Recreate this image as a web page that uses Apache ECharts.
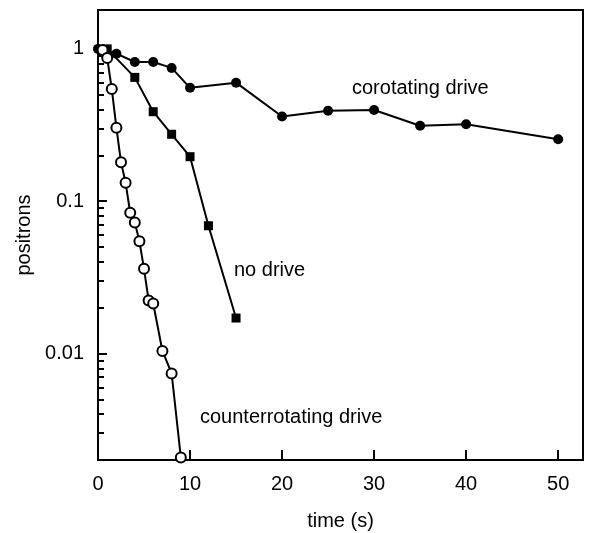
<!DOCTYPE html>
<html>
<head>
<meta charset="utf-8">
<script src="https://cdn.jsdelivr.net/npm/echarts@6/dist/echarts.min.js"></script>
<style>
html,body{margin:0;padding:0;background:#fff;}
#chart{width:589px;height:533px;}
</style>
</head>
<body>
<div id="chart"></div>
<script>
// Data
const corotatingTime = [0, 2, 4, 6, 8, 10, 15, 20, 25, 30, 35, 40, 50];
const corotatingPositrons = [1.0, 0.93, 0.82, 0.82, 0.75, 0.555, 0.60, 0.36, 0.393, 0.397, 0.313, 0.32, 0.255];

const noDriveTime = [1, 4, 6, 8, 10, 12, 15];
const noDrivePositrons = [1.0, 0.65, 0.387, 0.275, 0.196, 0.069, 0.0171];

const counterTime = [0.5, 1, 1.5, 2, 2.5, 3, 3.5, 4, 4.5, 5, 5.5, 6, 7, 8, 9];
const counterPositrons = [0.985, 0.87, 0.545, 0.304, 0.18, 0.132, 0.084, 0.0724, 0.0546, 0.036, 0.0223, 0.0213, 0.0104, 0.0074, 0.00208];

const xTicks = [0, 10, 20, 30, 40, 50];
const yMajorTicks = [0.01, 0.1, 1];
const yMinorTicks = [0.002,0.003,0.004,0.005,0.006,0.007,0.008,0.009,
                     0.02,0.03,0.04,0.05,0.06,0.07,0.08,0.09,
                     0.2,0.3,0.4,0.5,0.6,0.7,0.8,0.9];

const zip = (xs, ys) => xs.map((x, i) => [x, ys[i]]);
const FONT = 'Liberation Sans, Arial, Helvetica, sans-serif';
const FS = 20;

const chart = echarts.init(document.getElementById('chart'), null, {renderer: 'canvas'});
chart.setOption({
  animation: false,
  backgroundColor: '#fff',
  grid: {left: 98, right: 6, top: 10, bottom: 73, outerBoundsMode: 'none', containLabel: false,
         show: true, borderColor: '#000', borderWidth: 2, backgroundColor: 'transparent'},
  xAxis: {
    type: 'value', min: 0, max: 52.7, interval: 10,
    name: 'time (s)', nameLocation: 'middle', nameGap: 51,
    nameTextStyle: {fontFamily: FONT, fontSize: FS, color: '#000'},
    axisLine: {show: true, onZero: false, lineStyle: {color: '#000', width: 2}},
    axisTick: {show: true, inside: true, length: 10, lineStyle: {color: '#000', width: 2}, customValues: xTicks},
    axisLabel: {fontFamily: FONT, fontSize: FS, color: '#000', margin: 14, customValues: xTicks},
    splitLine: {show: false}
  },
  yAxis: [{
    type: 'log', logBase: 10, min: 0.002, max: 1.8,
    name: 'positrons', nameLocation: 'middle', nameGap: 62, nameRotate: 90,
    nameTextStyle: {fontFamily: FONT, fontSize: FS, color: '#000'},
    axisLine: {show: true, onZero: false, lineStyle: {color: '#000', width: 2}},
    axisTick: {show: true, inside: true, length: 9, lineStyle: {color: '#000', width: 2}, customValues: yMajorTicks},
    axisLabel: {fontFamily: FONT, fontSize: FS, color: '#000', margin: 14, customValues: yMajorTicks,
      formatter: v => String(+Number(v).toPrecision(3))},
    splitLine: {show: false}
  }, {
    type: 'log', logBase: 10, min: 0.002, max: 1.8, position: 'left',
    axisLine: {show: false},
    axisTick: {show: true, inside: true, length: 6, lineStyle: {color: '#000', width: 2}, customValues: yMinorTicks},
    axisLabel: {show: false},
    splitLine: {show: false}
  }],
  series: [{
    name: 'corotating drive', type: 'line', data: zip(corotatingTime, corotatingPositrons),
    symbol: 'circle', symbolSize: 10,
    lineStyle: {color: '#000', width: 2}, itemStyle: {color: '#000'}, z: 3
  }, {
    name: 'no drive', type: 'line', data: zip(noDriveTime, noDrivePositrons),
    symbol: 'rect', symbolSize: 9,
    lineStyle: {color: '#000', width: 2}, itemStyle: {color: '#000'}, z: 4
  }, {
    name: 'counterrotating drive', type: 'line', data: zip(counterTime, counterPositrons),
    symbol: 'circle', symbolSize: 10,
    lineStyle: {color: '#000', width: 2}, itemStyle: {color: '#fff', borderColor: '#000', borderWidth: 2}, z: 5
  }],
  graphic: [
    {type: 'text', left: 352, top: 78, style: {text: 'corotating drive', fontFamily: FONT, fontSize: FS, fill: '#000'}},
    {type: 'text', left: 234, top: 260, style: {text: 'no drive', fontFamily: FONT, fontSize: FS, fill: '#000'}},
    {type: 'text', left: 200, top: 407, style: {text: 'counterrotating drive', fontFamily: FONT, fontSize: FS, fill: '#000'}}
  ]
});
</script>
</body>
</html>
